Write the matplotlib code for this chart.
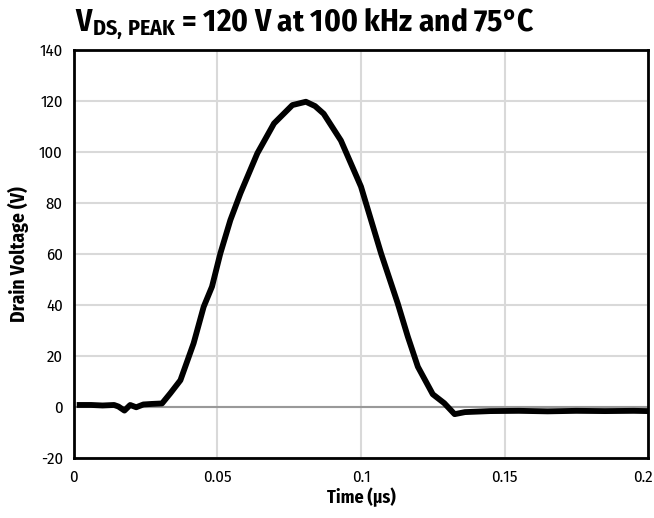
import matplotlib
matplotlib.use("Agg")
import matplotlib.pyplot as plt
from matplotlib.ticker import FuncFormatter
from matplotlib.transforms import ScaledTranslation
from matplotlib import font_manager as fm

time_us = [0.002, 0.006, 0.010, 0.014, 0.0155, 0.0176, 0.0196, 0.0217, 0.0242, 0.027, 0.0307,
           0.0336, 0.0371, 0.0417, 0.0452, 0.0481, 0.0510, 0.0545, 0.0580, 0.0639, 0.0697,
           0.0761, 0.0808, 0.0840, 0.0870, 0.0930, 0.1000, 0.1070, 0.1128, 0.1163, 0.1198,
           0.1250, 0.1290, 0.1326, 0.1362, 0.145, 0.155, 0.165, 0.175, 0.185, 0.195, 0.2]
drain_v = [0.8, 0.8, 0.6, 0.8, 0.2, -1.4, 0.8, -0.1, 1.0, 1.2, 1.4,
           5.4, 10.5, 25.0, 39.3, 47.2, 60.2, 73.3, 83.8, 99.5, 111.2,
           118.4, 119.7, 118.0, 115.0, 104.5, 86.4, 60.2, 40.6, 27.6, 15.8,
           5.0, 1.5, -2.8, -2.0, -1.6, -1.5, -1.7, -1.5, -1.6, -1.5, -1.6]

x_ticks = [0, 0.05, 0.1, 0.15, 0.2]
y_ticks = [-20, 0, 20, 40, 60, 80, 100, 120, 140]

names = {f.name for f in fm.fontManager.ttflist}
cands = ['Fira Sans Condensed', 'Asap Condensed', 'Fira Sans Extra Condensed']
fam = next((c for c in cands if c in names), 'DejaVu Sans')
stretch = 'condensed' if fam == 'DejaVu Sans' else 'normal'
plt.rcParams['font.family'] = [fam, 'DejaVu Sans']
plt.rcParams['font.stretch'] = stretch
plt.rcParams['axes.unicode_minus'] = False
plt.rcParams['mathtext.fontset'] = 'custom'
for k in ('rm', 'it', 'bf'):
    plt.rcParams['mathtext.' + k] = f'{fam}:bold:stretch={stretch}'

fig = plt.figure(figsize=(6.54, 5.18), dpi=100)
ax = fig.add_axes([0.113, 0.1158, 0.878, 0.7877])

ax.set_xlim(0, 0.2)
ax.set_ylim(-20, 140)
ax.set_xticks(x_ticks)
ax.set_yticks(y_ticks)
ax.xaxis.set_major_formatter(FuncFormatter(lambda v, p: f"{v:g}"))
ax.grid(True, color='#d9d9d9', lw=1.5)
ax.set_axisbelow(True)
ax.axhline(0, color='#999999', lw=1.5, zorder=1)

ax.plot(time_us, drain_v, color='black', lw=4.2, solid_joinstyle='round', zorder=3)

for s in ax.spines.values():
    s.set_linewidth(2)
    s.set_color('black')
ax.tick_params(length=0, labelsize=12, pad=8)

fig.canvas.draw()
last = ax.get_xticklabels()[-1]
last.set_transform(last.get_transform() + ScaledTranslation(-5 / 100, 0, fig.dpi_scale_trans))

ax.set_xlabel('Time (µs)', fontsize=13, fontweight='bold', labelpad=2)
ax.set_ylabel('Drain Voltage (V)', fontsize=14, fontweight='bold', labelpad=7)

fig.text(0.1147, 0.938, r'$\mathrm{V_{DS,\,PEAK}}$' + ' = 120 V at 100 kHz and 75°C',
         fontsize=22.5, fontweight='bold', ha='left', va='baseline')

fig.savefig('out.png', dpi=100)
